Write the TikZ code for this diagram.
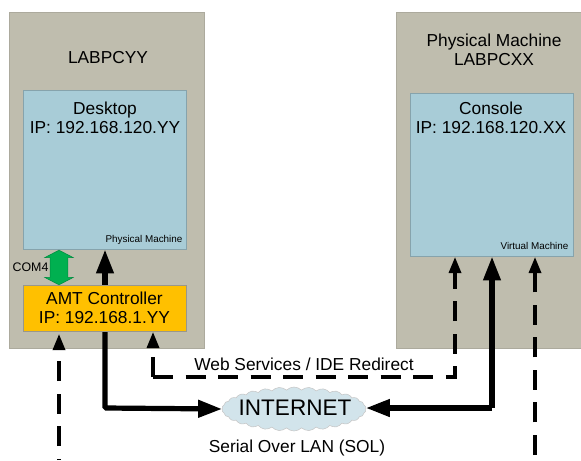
\documentclass[tikz,border=0pt]{standalone}
\usepackage{fontspec}
\setmainfont{Liberation Sans}
\usetikzlibrary{arrows.meta,shapes.symbols,shapes.arrows}
\definecolor{hostgrey}{HTML}{BFBDAE}
\definecolor{screenblue}{HTML}{A8CCD7}
\definecolor{amtorange}{HTML}{FFC000}
\definecolor{comgreen}{HTML}{00B050}
\definecolor{cloudblue}{HTML}{D2E4EB}
\begin{document}
\begin{tikzpicture}[x=0.75pt,y=-0.75pt,
    host node/.style={draw=hostgrey!90!black,fill=hostgrey,line width=0.5pt},
    screen node/.style={draw=screenblue!80!black,fill=screenblue,line width=0.7pt,minimum width=122.25pt},
    text node/.style={align=center,font=\fontsize{13}{14.5}\selectfont,inner sep=0pt},
    small node/.style={inner sep=0pt,font=\fontsize{7.4}{9}\selectfont},
    sol line/.style={line width=3.9pt,-{Triangle[length=18pt,width=12.5pt]}},
    dash line/.style={line width=2.4pt,dash pattern=on 15pt off 9.4pt,-{Triangle[length=12pt,width=9pt]}}]
        \useasboundingbox (0,0) rectangle (581,460);

        \node[host node,minimum width=146.6pt,minimum height=252pt] at (106.75,180) (labyy) {};
        \node[host node,minimum width=139pt,minimum height=252pt] at (488.5,180) (labxx) {};
        \node[screen node,minimum height=119.25pt] at (104.5,169.5) (desktop) {};
        \node[screen node,minimum height=122.25pt] at (492,174.5) (console) {};

        \coordinate (solamt) at (105,331);
        \coordinate (solturnl) at (105,408);
        \coordinate (solturnr) at (492,408);
        \coordinate (webamt) at (153,332);
        \coordinate (webturnl) at (153,377);
        \coordinate (webturnr) at (455,377);
        \coordinate (webcon) at (455,257);
        \coordinate (amtin) at (59,334);
        \coordinate (serl) at (59,460);
        \coordinate (conin) at (535,257);
        \coordinate (serr) at (535,455);

        \node[cloud,cloud puffs=30,cloud puff arc=90,aspect=3.5,inner sep=0pt,draw=gray!45,fill=cloudblue,minimum width=108pt,minimum height=33pt] at (294,409) (inet) {};
        \node[font=\fontsize{16.9}{19}\selectfont,inner sep=0pt] at (295,408) (inettext) {INTERNET};

        \draw[sol line] (solamt) -- (desktop.south -| solamt);
        \draw[sol line,rounded corners=1pt] (solamt) -- (solturnl) -- (inet.west);
        \draw[sol line,rounded corners=1pt] (solturnr) -- (inet.east |- solturnr);
        \draw[sol line,rounded corners=1pt] (solturnr) -- (console.south -| solturnr);

        \node[draw=hostgrey!80!black,fill=amtorange,line width=0.5pt,minimum width=122.25pt,minimum height=34.5pt,text node] at (104.5,308) (amt) {AMT Controller\\IP: 192.168.1.YY};

        \node[double arrow,double arrow head extend=4pt,fill=comgreen,draw=comgreen!80!black,line width=0.4pt,rotate=90,inner xsep=0pt,inner ysep=6.4pt,minimum height=26pt,double arrow tip angle=125] at (59,267.5) (com) {};

        \draw[dash line] (webturnl) -- (webamt);
        \draw[dash line] (webturnl) -- (webturnr) -- (webcon);
        \draw[dash line,dash phase=14pt] (serl) -- (amtin);
        \draw[dash line] (serr) -- (conin);

        \node[text node] at (108,58) (yyname) {LABPCYY};
        \node[text node] at (494,50) (xxname) {Physical Machine\\LABPCXX};
        \node[text node] at (105,118) (desktoptext) {Desktop\\IP: 192.168.120.YY};
        \node[text node] at (491,118) (consoletext) {Console\\IP: 192.168.120.XX};
        \node[small node] at (144,239.5) (physlabel) {Physical Machine};
        \node[small node] at (534.5,246) (virtlabel) {Virtual Machine};
        \node[inner sep=0pt,font=\fontsize{9.3}{11}\selectfont] at (30.5,267.5) (comlabel) {COM4};
        \node[inner sep=0pt,font=\fontsize{13}{15}\selectfont] at (304,364) (weblabel) {Web Services / IDE Redirect};
        \node[inner sep=0pt,font=\fontsize{13}{15}\selectfont] at (297,448) (sollabel) {Serial Over LAN (SOL)};
\end{tikzpicture}
\end{document}
